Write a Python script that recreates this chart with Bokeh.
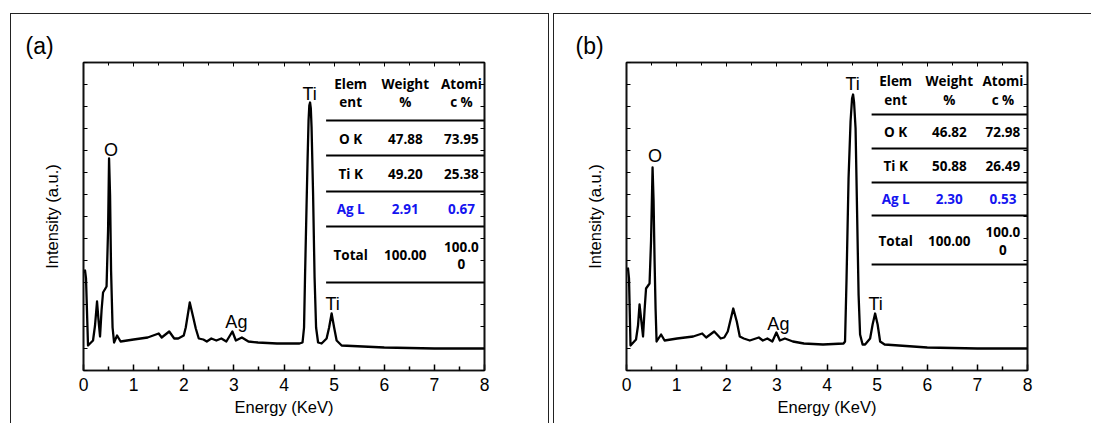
from bokeh.plotting import figure
from bokeh.layouts import row
from bokeh.models import LinearAxis, FixedTicker, Range1d, Title
from bokeh.core.properties import value
from bokeh.embed import file_html
from bokeh.resources import INLINE

# ---------------- data ----------------
x_ticks = [0, 1, 2, 3, 4, 5, 6, 7, 8]
x_minor = [0.5, 1.5, 2.5, 3.5, 4.5, 5.5, 6.5, 7.5]
y_ticks = [0, 22, 44, 66, 88, 110, 132, 154, 176, 198, 220, 242, 264, 286, 308]

energy_a = [0.00, 0.03, 0.05, 0.09, 0.19, 0.23, 0.27, 0.30, 0.33, 0.36, 0.39, 0.46, 0.49, 0.51,
            0.53, 0.55, 0.58, 0.61, 0.67, 0.74, 1.00, 1.28, 1.50, 1.56, 1.71, 1.81, 1.89, 2.00,
            2.04, 2.12, 2.19, 2.24, 2.30, 2.39, 2.46, 2.55, 2.65, 2.75, 2.85, 2.97, 3.04, 3.16,
            3.29, 3.48, 3.86, 4.31, 4.37, 4.40, 4.42, 4.45, 4.47, 4.49, 4.505, 4.52, 4.535, 4.55,
            4.58, 4.61, 4.64, 4.68, 4.75, 4.85, 4.90, 4.95, 5.00, 5.05, 5.15, 6.00, 7.00, 8.00]
intensity_a = [98, 100, 92, 25, 30, 45, 69, 50, 34, 60, 78, 84, 140, 212,
               175, 100, 43, 28, 35, 29, 31, 33, 37, 33, 39, 32, 32, 35,
               43, 68, 53, 42, 32, 31, 29, 32, 30, 32, 29, 39, 30, 33,
               29, 28, 27, 27, 28, 43, 95, 165, 210, 250, 265, 268, 262, 243,
               177, 93, 43, 28, 27, 32, 43, 57, 43, 30, 25, 23, 22, 22]

energy_b = [0.00, 0.03, 0.05, 0.08, 0.19, 0.23, 0.26, 0.30, 0.33, 0.36, 0.39, 0.46, 0.49, 0.52,
            0.54, 0.56, 0.58, 0.60, 0.69, 0.76, 1.01, 1.33, 1.51, 1.59, 1.75, 1.88, 1.95, 2.02,
            2.13, 2.20, 2.26, 2.34, 2.46, 2.64, 2.72, 2.81, 2.91, 2.99, 3.06, 3.16, 3.32, 3.54,
            3.92, 4.33, 4.36, 4.39, 4.43, 4.47, 4.50, 4.52, 4.54, 4.57, 4.60, 4.63, 4.66, 4.71,
            4.76, 4.86, 4.91, 4.96, 5.01, 5.06, 5.15, 6.00, 7.00, 8.00]
intensity_b = [100, 102, 92, 25, 31, 45, 66, 48, 34, 60, 82, 87, 130, 203,
               170, 110, 62, 29, 36, 30, 32, 34, 37, 33, 39, 32, 33, 39,
               62, 49, 34, 32, 30, 33, 30, 32, 29, 38, 30, 32, 29, 27,
               26, 27, 29, 92, 192, 249, 272, 276, 268, 242, 159, 76, 36, 26,
               26, 32, 46, 57, 46, 29, 26, 23, 22, 22]

header_top = ["Elem", "Weight", "Atomi"]
header_bottom = ["ent", "%", "c %"]
elements = ["O K", "Ti K", "Ag L", "Total"]
weight_a = ["47.88", "49.20", "2.91", "100.00"]
atomic_a = ["73.95", "25.38", "0.67", "100.0"]
weight_b = ["46.82", "50.88", "2.30", "100.00"]
atomic_b = ["72.98", "26.49", "0.53", "100.0"]
atomic_total_tail = "0"

peak_names = ["O", "Ti", "Ti", "Ag"]
peak_energy_a = [0.55, 4.51, 4.97, 3.05]
peak_energy_b = [0.57, 4.51, 4.97, 3.03]

# ---------------- layout constants ----------------
FONT = "Liberation Sans"
TFONT = "Open Sans"
TSIZE = "13.5px"
BLUE = "#1414f0"
LINE = "#111111"
HEIGHT = 423


def hidden_axis(ticker, minor_in):
    return LinearAxis(ticker=ticker, major_label_text_font_size="1px",
                      major_label_text_color=None, major_label_standoff=0,
                      major_tick_in=4, major_tick_out=0, minor_tick_in=minor_in,
                      minor_tick_out=0, axis_line_width=1.6, axis_line_color=LINE)


def panel(tag, tag_offset, energy, intensity, weights, atomics, peak_e, peak_y, cols, hdr_y,
          row_y, tot_y, rules_y, rule_x0, width, left, box_left, right_border):
    right = width - (left + 401)
    p = figure(width=width, height=HEIGHT, output_backend="svg", toolbar_location=None,
               title=None, x_range=Range1d(0, 8), y_range=Range1d(0, 308),
               min_border_left=left, min_border_right=right,
               min_border_top=62, min_border_bottom=HEIGHT - 62 - 308)
    p.border_fill_color = None
    p.background_fill_color = "white"
    p.outline_line_color = LINE
    p.outline_line_width = 1.6
    p.grid.visible = False

    grad = "linear-gradient(#222,#222)"
    bg = [grad, grad]
    top_len = box_left + (2 if right_border else 0)
    size = ["1.4px 100%", f"calc(100% - {top_len}px) 1.4px"]
    pos = [f"{box_left}px 13px", f"{box_left}px 13px"]
    if right_border:
        bg.append(grad)
        size.append("1.4px 100%")
        pos.append("right 2px top 13px")
    p.styles = {"background-image": ", ".join(bg), "background-size": ", ".join(size),
                "background-position": ", ".join(pos), "background-repeat": "no-repeat"}

    xt = FixedTicker(ticks=x_ticks, minor_ticks=x_minor)
    yt = FixedTicker(ticks=y_ticks, minor_ticks=[])

    xa = p.xaxis[0]
    xa.ticker = xt
    xa.axis_label = "Energy (KeV)"
    xa.axis_label_text_font = FONT
    xa.axis_label_text_font_size = "16.5px"
    xa.axis_label_text_font_style = "normal"
    xa.axis_label_text_color = "black"
    xa.axis_label_standoff = 4
    xa.major_label_text_font = FONT
    xa.major_label_text_font_size = "17.5px"
    xa.major_label_text_color = "black"
    xa.major_label_standoff = 7
    xa.major_tick_in = 6
    xa.major_tick_out = 0
    xa.minor_tick_in = 4
    xa.minor_tick_out = 0
    xa.axis_line_width = 1.6
    xa.major_tick_line_width = 1.5
    xa.minor_tick_line_width = 1.5
    xa.axis_line_color = LINE

    ya = p.yaxis[0]
    ya.ticker = yt
    ya.axis_label = "Intensity (a.u.)"
    ya.axis_label_text_font = FONT
    ya.axis_label_text_font_size = "16.5px"
    ya.axis_label_text_font_style = "normal"
    ya.axis_label_text_color = "black"
    ya.axis_label_standoff = 23
    ya.major_label_text_font_size = "1px"
    ya.major_label_text_color = None
    ya.major_label_standoff = 0
    ya.major_tick_in = 4
    ya.major_tick_out = 0
    ya.minor_tick_in = 0
    ya.minor_tick_out = 0
    ya.axis_line_width = 1.6
    ya.axis_line_color = LINE

    p.add_layout(hidden_axis(yt, 0), "right")
    p.add_layout(hidden_axis(xt, 3), "above")
    p.add_layout(Title(text=tag, align="left", offset=tag_offset, text_font=FONT,
                       text_font_size="23px", text_font_style="normal", text_color="black",
                       standoff=7), "above")

    p.line(energy, intensity, line_color="black", line_width=2.3, line_join="round")

    # peak labels
    p.text(x=peak_e, y=peak_y, text=peak_names, text_font=value(FONT), text_font_size="18px",
           text_align="center", text_baseline="middle", text_color="black")

    # table rules
    p.segment(x0=[rule_x0] * len(rules_y), x1=[8] * len(rules_y), y0=rules_y, y1=rules_y,
              line_color="black", line_width=1.8)

    common = dict(text_font=value(TFONT), text_font_style="bold", text_font_size=TSIZE,
                  text_align="center", text_baseline="middle")
    p.text(x=cols, y=[hdr_y[0]] * 3, text=header_top, text_color="black", **common)
    p.text(x=cols, y=[hdr_y[1]] * 3, text=header_bottom, text_color="black", **common)

    colors = ["black", "black", BLUE, "black"]
    p.text(x=[cols[0]] * 4, y=row_y, text=elements, text_color=colors, **common)
    p.text(x=[cols[1]] * 4, y=row_y, text=weights, text_color=colors, **common)
    p.text(x=[cols[2]] * 4, y=[row_y[0], row_y[1], row_y[2], tot_y[0]], text=atomics,
           text_color=colors, **common)
    p.text(x=[cols[2]], y=[tot_y[1]], text=[atomic_total_tail], text_color="black", **common)
    return p


pa = panel("(a)", -58, energy_a, intensity_a, weight_a, atomic_a, peak_energy_a,
           [221, 277, 67, 49], [5.33, 6.42, 7.54], [287, 269], [232, 197, 162, 116],
           [124, 107], [250, 215, 179, 144, 88], 4.84, 551, 83, 10, True)
pb = panel("(b)", -51, energy_b, intensity_b, weight_b, atomic_b, peak_energy_b,
           [215, 287, 67, 47], [5.37, 6.44, 7.51], [290, 271], [239, 205, 172, 130],
           [139, 121], [256, 222, 188, 155, 106], 4.89, 540, 75, 2, False)

layout = row(pa, pb, spacing=0)
open("out.html", "w").write(file_html(layout, INLINE))
